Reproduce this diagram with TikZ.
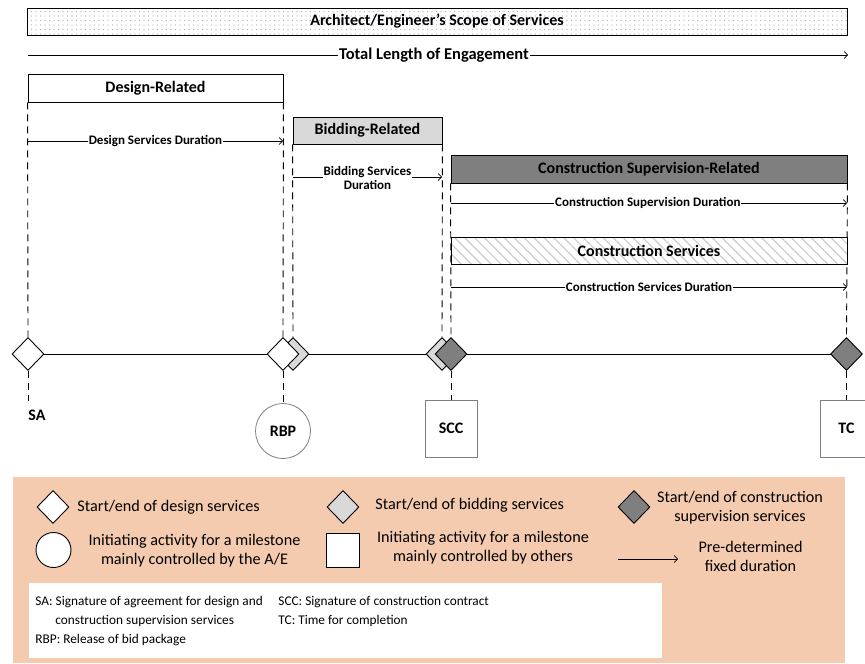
\documentclass[tikz,border=0pt]{standalone}
\usepackage{fontspec}
\setmainfont{Carlito}
\usetikzlibrary{shapes.geometric,arrows.meta,patterns.meta}
\definecolor{lgray}{HTML}{D9D9D9}
\definecolor{dgray}{HTML}{7F7F7F}
\definecolor{peach}{HTML}{F5CBAF}
\definecolor{dotc}{HTML}{A3AEC4}
\definecolor{hatchc}{HTML}{CCCCCC}
\begin{document}
\begin{tikzpicture}[x=1pt,y=1pt,line width=0.9pt,
  phase/.style={draw, inner sep=0pt, font=\bfseries\fontsize{16}{18}\selectfont},
  dur/.style={-{Straight Barb[length=3.5pt,width=7pt]}, line width=0.7pt},
  durlbl/.style={fill=white, inner sep=1pt, font=\bfseries\fontsize{13}{14}\selectfont, align=center},
  dashln/.style={dash pattern=on 7pt off 5pt, line width=0.9pt},
  ms/.style={diamond, draw, inner sep=0pt, minimum width=32pt, minimum height=33pt},
  tag/.style={font=\bfseries\fontsize{16}{18}\selectfont},
  initbox/.style={draw=dgray, line width=0.8pt, inner sep=0pt, font=\bfseries\fontsize{16}{18}\selectfont},
  legtxt/.style={font=\fontsize{16.2}{19}\selectfont, align=center, inner sep=0pt},
  keytxt/.style={font=\fontsize{13.3}{15}\selectfont, anchor=base west, inner sep=0pt}
]
\useasboundingbox (0,0) rectangle (865,-664);

% top scope box
\node[phase, minimum width=820pt, minimum height=27pt,
  pattern={Dots[radius=0.7pt,distance=4.5pt]}, pattern color=dotc] (scope) at (437,-21.5) {Architect/Engineer’s Scope of Services};

% total length
\coordinate (totL) at (28,-55);
\coordinate (totR) at (848,-55);
\draw[dur] (totL) -- (totR) node[pos=0.495, fill=white, inner sep=1pt, font=\bfseries\fontsize{16.5}{18}\selectfont] (totlbl) {Total Length of Engagement};

% phase boxes
\node[phase, fill=white, minimum width=255pt, minimum height=28pt] (des) at (155.5,-88) {Design-Related};
\node[phase, fill=lgray, minimum width=149pt, minimum height=27pt] (bid) at (367.5,-130.5) {Bidding-Related};
\node[phase, fill=dgray, minimum width=396pt, minimum height=28pt] (csr) at (649,-169) {Construction Supervision-Related};

% timeline
\coordinate (tlL) at (28,-354);
\coordinate (tlR) at (846.5,-354);
\draw (tlL) -- (tlR);

% milestones
\node[ms, fill=white] (dSA) at (28,-354) {};
\node[ms, fill=lgray] (dB1) at (293,-354) {};
\node[ms, fill=white] (dRBP) at (283,-354) {};
\node[ms, fill=lgray] (dB2) at (442,-354) {};
\node[ms, fill=dgray] (dSCC) at (451,-354) {};
\node[ms, fill=dgray] (dTC) at (846.5,-354) {};

% dashed extension lines
\draw[dashln] (des.south west) -- (dSA.north);
\draw[dashln] (des.south east) -- (dRBP.north);
\draw[dashln] (bid.south west) -- (dB1.north);
\draw[dashln] (bid.south east) -- (dB2.north);
\draw[dashln] (csr.south west) -- (dSCC.north);
\draw[dashln] (csr.south east) -- (dTC.north);

% construction services box
\node[phase, fill=white, minimum width=396pt, minimum height=27pt] (csbg) at (649,-250.5) {};
\node[phase, minimum width=396pt, minimum height=27pt,
  pattern={Lines[angle=-45,distance=7pt,line width=1.2pt]}, pattern color=hatchc] (cs) at (649,-250.5) {Construction Services};

% durations
\coordinate (dsL) at (28,-141);
\coordinate (dsR) at (283,-141);
\draw[dur] (dsL) -- (dsR) node[durlbl, pos=0.5] (dslbl) {Design Services Duration};
\coordinate (bsL) at (293,-177);
\coordinate (bsR) at (442,-177);
\draw[dur] (bsL) -- (bsR) node[durlbl, pos=0.5, yshift=-0.5pt] (bslbl) {Bidding Services\\Duration};
\coordinate (csdL) at (451,-203);
\coordinate (csdR) at (847,-203);
\draw[dur] (csdL) -- (csdR) node[durlbl, pos=0.497] (csdlbl) {Construction Supervision Duration};
\coordinate (csvL) at (451,-287);
\coordinate (csvR) at (847,-287);
\draw[dur] (csvL) -- (csvR) node[durlbl, pos=0.5] (csvlbl) {Construction Services Duration};

% initiating activities
\coordinate (saEnd) at (28,-401);
\draw[dashln] (dSA.south) -- (saEnd);
\node[tag, anchor=west, inner sep=0pt] (sa) at (28,-415) {SA};
\node[initbox, circle, minimum size=55pt] (rbp) at (283,-431) {RBP};
\draw[dashln] (dRBP.south) -- (rbp.north);
\node[initbox, rectangle, minimum width=52pt, minimum height=57pt] (scc) at (451,-428.5) {SCC};
\draw[dashln] (dSCC.south) -- (scc.north);
\node[initbox, rectangle, minimum width=52pt, minimum height=57pt] (tc) at (846.5,-428.5) {TC};
\draw[dashln] (dTC.south) -- (tc.north);

% legend
\fill[peach] (13,-477) rectangle (845,-663);
\node[ms, fill=white] (l1) at (53,-507) {};
\node[legtxt, anchor=west] (l1t) at (77,-507) {Start/end of design services};
\node[ms, fill=lgray] (l2) at (343,-507) {};
\node[legtxt, anchor=west] (l2t) at (375,-505) {Start/end of bidding services};
\node[ms, fill=dgray] (l3) at (634,-507) {};
\node[legtxt] (l3t) at (740,-508) {Start/end of construction\\supervision services};
\node[circle, draw, fill=white, minimum size=35pt, inner sep=0pt] (l4) at (53.5,-550) {};
\node[legtxt] (l4t) at (194.5,-551) {Initiating activity for a milestone\\mainly controlled by the A/E};
\node[rectangle, draw, fill=white, minimum width=33pt, minimum height=34pt, inner sep=0pt] (l5) at (342.5,-550) {};
\node[legtxt] (l5t) at (483,-548) {Initiating activity for a milestone\\mainly controlled by others};
\coordinate (l6L) at (618,-559);
\coordinate (l6R) at (678,-559);
\draw[dur] (l6L) -- (l6R);
\node[legtxt] (l6t) at (750.5,-556) {Pre-determined\\fixed duration};

% abbreviations
\fill[white] (29,-583) rectangle (662,-658);
\node[keytxt] (k1) at (35,-605) {SA: Signature of agreement for design and};
\node[keytxt] (k2) at (55,-624) {construction supervision services};
\node[keytxt] (k3) at (35,-643) {RBP: Release of bid package};
\node[keytxt] (k4) at (278,-605) {SCC: Signature of construction contract};
\node[keytxt] (k5) at (278,-624) {TC: Time for completion};
\end{tikzpicture}
\end{document}
